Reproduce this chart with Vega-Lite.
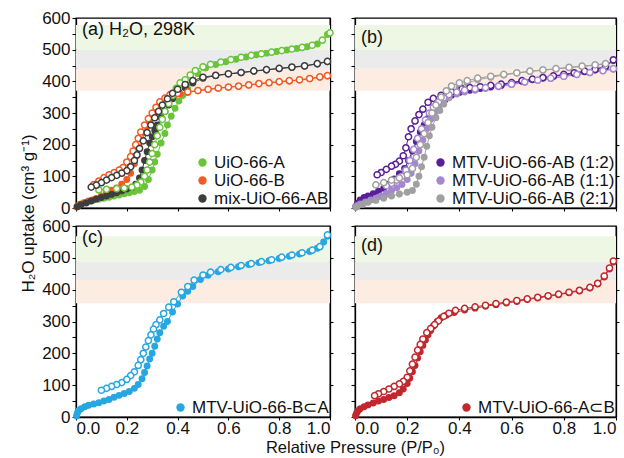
{
"$schema":"https://vega.github.io/schema/vega-lite/v6.json",
"padding":{"left":18,"top":8,"right":5,"bottom":0},
"bounds":"flush",
"columns":2,
"spacing":{"row":18,"column":25},
"config":{"font":"Liberation Sans","view":{"stroke":"#000","strokeWidth":1.3},
"axis":{"grid":false,"domainColor":"#000","domainWidth":1.3,"tickColor":"#000","tickWidth":1.1,"tickSize":4,"labelFontSize":17,"labelColor":"#111","titleFontSize":17,"titleFontWeight":"normal","titleColor":"#111","labelFont":"Liberation Sans","titleFont":"Liberation Sans","labelPadding":2},
"axisX":{"tickSize":3,"labelPadding":0,"titlePadding":3,"labelFontSize":17,"titleFontSize":16.5},
"legend":{"orient":"bottom-right","labelFontSize":17,"labelFont":"Liberation Sans","labelColor":"#111","labelLimit":0,"symbolType":"circle","symbolSize":70,"padding":0,"offset":1,"rowPadding":0,"labelOffset":3,"symbolStrokeWidth":0},
"title":{"font":"Liberation Sans","fontSize":18,"fontWeight":"normal","color":"#111","anchor":"start","frame":"group","offset":-30,"dx":6}},
"resolve":{"scale":{"color":"independent","stroke":"independent","fill":"independent","x":"independent","y":"independent"},"legend":{"color":"independent"}},
"datasets":{
"bandsTop":[{"band":"o","lo":370,"hi":440},{"band":"k","lo":440,"hi":500},{"band":"g","lo":500,"hi":578}],
"bandsBot":[{"band":"o","lo":357,"hi":430},{"band":"k","lo":430,"hi":488},{"band":"g","lo":488,"hi":568}],
"a":[
{"s":"UiO-66-A","b":"ads","p":0.005,"v":5},{"s":"UiO-66-A","b":"ads","p":0.015,"v":12},{"s":"UiO-66-A","b":"ads","p":0.03,"v":17},{"s":"UiO-66-A","b":"ads","p":0.05,"v":21},{"s":"UiO-66-A","b":"ads","p":0.07,"v":25},{"s":"UiO-66-A","b":"ads","p":0.09,"v":28},{"s":"UiO-66-A","b":"ads","p":0.11,"v":31},{"s":"UiO-66-A","b":"ads","p":0.13,"v":34},{"s":"UiO-66-A","b":"ads","p":0.15,"v":38},{"s":"UiO-66-A","b":"ads","p":0.17,"v":41},{"s":"UiO-66-A","b":"ads","p":0.19,"v":45},{"s":"UiO-66-A","b":"ads","p":0.21,"v":48},{"s":"UiO-66-A","b":"ads","p":0.23,"v":52},{"s":"UiO-66-A","b":"ads","p":0.25,"v":56},{"s":"UiO-66-A","b":"ads","p":0.27,"v":68},{"s":"UiO-66-A","b":"ads","p":0.285,"v":90},{"s":"UiO-66-A","b":"ads","p":0.3,"v":120},{"s":"UiO-66-A","b":"ads","p":0.31,"v":145},{"s":"UiO-66-A","b":"ads","p":0.32,"v":170},{"s":"UiO-66-A","b":"ads","p":0.335,"v":205},{"s":"UiO-66-A","b":"ads","p":0.35,"v":235},{"s":"UiO-66-A","b":"ads","p":0.36,"v":262},{"s":"UiO-66-A","b":"ads","p":0.375,"v":290},{"s":"UiO-66-A","b":"ads","p":0.39,"v":315},{"s":"UiO-66-A","b":"ads","p":0.405,"v":338},{"s":"UiO-66-A","b":"ads","p":0.42,"v":355},{"s":"UiO-66-A","b":"ads","p":0.44,"v":375},{"s":"UiO-66-A","b":"ads","p":0.46,"v":398},{"s":"UiO-66-A","b":"ads","p":0.48,"v":425},{"s":"UiO-66-A","b":"ads","p":0.51,"v":442},{"s":"UiO-66-A","b":"ads","p":0.55,"v":453},{"s":"UiO-66-A","b":"ads","p":0.59,"v":462},{"s":"UiO-66-A","b":"ads","p":0.63,"v":470},{"s":"UiO-66-A","b":"ads","p":0.67,"v":477},{"s":"UiO-66-A","b":"ads","p":0.71,"v":484},{"s":"UiO-66-A","b":"ads","p":0.75,"v":489},{"s":"UiO-66-A","b":"ads","p":0.79,"v":494},{"s":"UiO-66-A","b":"ads","p":0.83,"v":499},{"s":"UiO-66-A","b":"ads","p":0.87,"v":504},{"s":"UiO-66-A","b":"ads","p":0.91,"v":509},{"s":"UiO-66-A","b":"ads","p":0.95,"v":518},{"s":"UiO-66-A","b":"ads","p":0.99,"v":548},
{"s":"UiO-66-A","b":"des","p":1.0,"v":553},{"s":"UiO-66-A","b":"des","p":0.97,"v":530},{"s":"UiO-66-A","b":"des","p":0.93,"v":514},{"s":"UiO-66-A","b":"des","p":0.89,"v":507},{"s":"UiO-66-A","b":"des","p":0.85,"v":502},{"s":"UiO-66-A","b":"des","p":0.81,"v":497},{"s":"UiO-66-A","b":"des","p":0.77,"v":492},{"s":"UiO-66-A","b":"des","p":0.73,"v":487},{"s":"UiO-66-A","b":"des","p":0.69,"v":482},{"s":"UiO-66-A","b":"des","p":0.65,"v":476},{"s":"UiO-66-A","b":"des","p":0.61,"v":469},{"s":"UiO-66-A","b":"des","p":0.57,"v":461},{"s":"UiO-66-A","b":"des","p":0.53,"v":454},{"s":"UiO-66-A","b":"des","p":0.5,"v":446},{"s":"UiO-66-A","b":"des","p":0.47,"v":434},{"s":"UiO-66-A","b":"des","p":0.45,"v":420},{"s":"UiO-66-A","b":"des","p":0.43,"v":405},{"s":"UiO-66-A","b":"des","p":0.41,"v":395},{"s":"UiO-66-A","b":"des","p":0.395,"v":378},{"s":"UiO-66-A","b":"des","p":0.38,"v":355},{"s":"UiO-66-A","b":"des","p":0.365,"v":330},{"s":"UiO-66-A","b":"des","p":0.35,"v":305},{"s":"UiO-66-A","b":"des","p":0.34,"v":280},{"s":"UiO-66-A","b":"des","p":0.33,"v":255},{"s":"UiO-66-A","b":"des","p":0.32,"v":228},{"s":"UiO-66-A","b":"des","p":0.31,"v":200},{"s":"UiO-66-A","b":"des","p":0.3,"v":172},{"s":"UiO-66-A","b":"des","p":0.29,"v":145},{"s":"UiO-66-A","b":"des","p":0.28,"v":120},{"s":"UiO-66-A","b":"des","p":0.27,"v":100},{"s":"UiO-66-A","b":"des","p":0.255,"v":82},{"s":"UiO-66-A","b":"des","p":0.24,"v":72},{"s":"UiO-66-A","b":"des","p":0.22,"v":66},{"s":"UiO-66-A","b":"des","p":0.19,"v":63},{"s":"UiO-66-A","b":"des","p":0.16,"v":61},{"s":"UiO-66-A","b":"des","p":0.12,"v":59},{"s":"UiO-66-A","b":"des","p":0.09,"v":57},
{"s":"UiO-66-B","b":"ads","p":0.003,"v":3},{"s":"UiO-66-B","b":"ads","p":0.01,"v":8},{"s":"UiO-66-B","b":"ads","p":0.02,"v":12},{"s":"UiO-66-B","b":"ads","p":0.035,"v":17},{"s":"UiO-66-B","b":"ads","p":0.05,"v":22},{"s":"UiO-66-B","b":"ads","p":0.065,"v":25},{"s":"UiO-66-B","b":"ads","p":0.08,"v":30},{"s":"UiO-66-B","b":"ads","p":0.1,"v":38},{"s":"UiO-66-B","b":"ads","p":0.12,"v":48},{"s":"UiO-66-B","b":"ads","p":0.14,"v":56},{"s":"UiO-66-B","b":"ads","p":0.16,"v":63},{"s":"UiO-66-B","b":"ads","p":0.18,"v":75},{"s":"UiO-66-B","b":"ads","p":0.2,"v":90},{"s":"UiO-66-B","b":"ads","p":0.215,"v":110},{"s":"UiO-66-B","b":"ads","p":0.23,"v":140},{"s":"UiO-66-B","b":"ads","p":0.24,"v":165},{"s":"UiO-66-B","b":"ads","p":0.25,"v":190},{"s":"UiO-66-B","b":"ads","p":0.26,"v":215},{"s":"UiO-66-B","b":"ads","p":0.27,"v":238},{"s":"UiO-66-B","b":"ads","p":0.28,"v":257},{"s":"UiO-66-B","b":"ads","p":0.29,"v":275},{"s":"UiO-66-B","b":"ads","p":0.3,"v":290},{"s":"UiO-66-B","b":"ads","p":0.31,"v":302},{"s":"UiO-66-B","b":"ads","p":0.325,"v":320},{"s":"UiO-66-B","b":"ads","p":0.34,"v":333},{"s":"UiO-66-B","b":"ads","p":0.36,"v":343},{"s":"UiO-66-B","b":"ads","p":0.385,"v":352},{"s":"UiO-66-B","b":"ads","p":0.41,"v":360},{"s":"UiO-66-B","b":"ads","p":0.44,"v":365},{"s":"UiO-66-B","b":"ads","p":0.48,"v":370},{"s":"UiO-66-B","b":"ads","p":0.52,"v":374},{"s":"UiO-66-B","b":"ads","p":0.56,"v":378},{"s":"UiO-66-B","b":"ads","p":0.6,"v":381},{"s":"UiO-66-B","b":"ads","p":0.64,"v":384},{"s":"UiO-66-B","b":"ads","p":0.68,"v":388},{"s":"UiO-66-B","b":"ads","p":0.72,"v":392},{"s":"UiO-66-B","b":"ads","p":0.76,"v":395},{"s":"UiO-66-B","b":"ads","p":0.8,"v":398},{"s":"UiO-66-B","b":"ads","p":0.84,"v":401},{"s":"UiO-66-B","b":"ads","p":0.88,"v":404},{"s":"UiO-66-B","b":"ads","p":0.92,"v":408},{"s":"UiO-66-B","b":"ads","p":0.96,"v":413},{"s":"UiO-66-B","b":"ads","p":0.99,"v":417},
{"s":"UiO-66-B","b":"des","p":0.99,"v":418},{"s":"UiO-66-B","b":"des","p":0.96,"v":414},{"s":"UiO-66-B","b":"des","p":0.92,"v":409},{"s":"UiO-66-B","b":"des","p":0.88,"v":405},{"s":"UiO-66-B","b":"des","p":0.84,"v":402},{"s":"UiO-66-B","b":"des","p":0.8,"v":399},{"s":"UiO-66-B","b":"des","p":0.76,"v":396},{"s":"UiO-66-B","b":"des","p":0.72,"v":393},{"s":"UiO-66-B","b":"des","p":0.68,"v":389},{"s":"UiO-66-B","b":"des","p":0.64,"v":385},{"s":"UiO-66-B","b":"des","p":0.6,"v":382},{"s":"UiO-66-B","b":"des","p":0.56,"v":379},{"s":"UiO-66-B","b":"des","p":0.52,"v":375},{"s":"UiO-66-B","b":"des","p":0.48,"v":371},{"s":"UiO-66-B","b":"des","p":0.44,"v":367},{"s":"UiO-66-B","b":"des","p":0.4,"v":362},{"s":"UiO-66-B","b":"des","p":0.37,"v":358},{"s":"UiO-66-B","b":"des","p":0.35,"v":347},{"s":"UiO-66-B","b":"des","p":0.33,"v":335},{"s":"UiO-66-B","b":"des","p":0.315,"v":318},{"s":"UiO-66-B","b":"des","p":0.3,"v":300},{"s":"UiO-66-B","b":"des","p":0.285,"v":282},{"s":"UiO-66-B","b":"des","p":0.27,"v":262},{"s":"UiO-66-B","b":"des","p":0.255,"v":240},{"s":"UiO-66-B","b":"des","p":0.245,"v":220},{"s":"UiO-66-B","b":"des","p":0.235,"v":200},{"s":"UiO-66-B","b":"des","p":0.225,"v":180},{"s":"UiO-66-B","b":"des","p":0.215,"v":162},{"s":"UiO-66-B","b":"des","p":0.2,"v":145},{"s":"UiO-66-B","b":"des","p":0.185,"v":128},{"s":"UiO-66-B","b":"des","p":0.17,"v":120},{"s":"UiO-66-B","b":"des","p":0.15,"v":112},{"s":"UiO-66-B","b":"des","p":0.13,"v":105},{"s":"UiO-66-B","b":"des","p":0.11,"v":96},{"s":"UiO-66-B","b":"des","p":0.09,"v":85},{"s":"UiO-66-B","b":"des","p":0.07,"v":74},
{"s":"mix-UiO-66-AB","b":"ads","p":0.005,"v":4},{"s":"mix-UiO-66-AB","b":"ads","p":0.02,"v":10},{"s":"mix-UiO-66-AB","b":"ads","p":0.04,"v":16},{"s":"mix-UiO-66-AB","b":"ads","p":0.06,"v":22},{"s":"mix-UiO-66-AB","b":"ads","p":0.08,"v":28},{"s":"mix-UiO-66-AB","b":"ads","p":0.1,"v":33},{"s":"mix-UiO-66-AB","b":"ads","p":0.12,"v":38},{"s":"mix-UiO-66-AB","b":"ads","p":0.14,"v":43},{"s":"mix-UiO-66-AB","b":"ads","p":0.16,"v":48},{"s":"mix-UiO-66-AB","b":"ads","p":0.18,"v":54},{"s":"mix-UiO-66-AB","b":"ads","p":0.2,"v":60},{"s":"mix-UiO-66-AB","b":"ads","p":0.22,"v":65},{"s":"mix-UiO-66-AB","b":"ads","p":0.235,"v":75},{"s":"mix-UiO-66-AB","b":"ads","p":0.25,"v":95},{"s":"mix-UiO-66-AB","b":"ads","p":0.26,"v":120},{"s":"mix-UiO-66-AB","b":"ads","p":0.27,"v":150},{"s":"mix-UiO-66-AB","b":"ads","p":0.28,"v":178},{"s":"mix-UiO-66-AB","b":"ads","p":0.29,"v":205},{"s":"mix-UiO-66-AB","b":"ads","p":0.3,"v":225},{"s":"mix-UiO-66-AB","b":"ads","p":0.31,"v":245},{"s":"mix-UiO-66-AB","b":"ads","p":0.32,"v":262},{"s":"mix-UiO-66-AB","b":"ads","p":0.335,"v":285},{"s":"mix-UiO-66-AB","b":"ads","p":0.35,"v":305},{"s":"mix-UiO-66-AB","b":"ads","p":0.365,"v":325},{"s":"mix-UiO-66-AB","b":"ads","p":0.38,"v":345},{"s":"mix-UiO-66-AB","b":"ads","p":0.4,"v":362},{"s":"mix-UiO-66-AB","b":"ads","p":0.43,"v":380},{"s":"mix-UiO-66-AB","b":"ads","p":0.46,"v":395},{"s":"mix-UiO-66-AB","b":"ads","p":0.5,"v":410},{"s":"mix-UiO-66-AB","b":"ads","p":0.55,"v":418},{"s":"mix-UiO-66-AB","b":"ads","p":0.6,"v":423},{"s":"mix-UiO-66-AB","b":"ads","p":0.65,"v":427},{"s":"mix-UiO-66-AB","b":"ads","p":0.7,"v":432},{"s":"mix-UiO-66-AB","b":"ads","p":0.75,"v":436},{"s":"mix-UiO-66-AB","b":"ads","p":0.8,"v":440},{"s":"mix-UiO-66-AB","b":"ads","p":0.85,"v":444},{"s":"mix-UiO-66-AB","b":"ads","p":0.9,"v":448},{"s":"mix-UiO-66-AB","b":"ads","p":0.95,"v":455},{"s":"mix-UiO-66-AB","b":"ads","p":0.99,"v":462},
{"s":"mix-UiO-66-AB","b":"des","p":0.99,"v":463},{"s":"mix-UiO-66-AB","b":"des","p":0.95,"v":456},{"s":"mix-UiO-66-AB","b":"des","p":0.9,"v":449},{"s":"mix-UiO-66-AB","b":"des","p":0.85,"v":445},{"s":"mix-UiO-66-AB","b":"des","p":0.8,"v":441},{"s":"mix-UiO-66-AB","b":"des","p":0.75,"v":437},{"s":"mix-UiO-66-AB","b":"des","p":0.7,"v":433},{"s":"mix-UiO-66-AB","b":"des","p":0.65,"v":428},{"s":"mix-UiO-66-AB","b":"des","p":0.6,"v":424},{"s":"mix-UiO-66-AB","b":"des","p":0.55,"v":419},{"s":"mix-UiO-66-AB","b":"des","p":0.5,"v":413},{"s":"mix-UiO-66-AB","b":"des","p":0.46,"v":402},{"s":"mix-UiO-66-AB","b":"des","p":0.43,"v":390},{"s":"mix-UiO-66-AB","b":"des","p":0.4,"v":375},{"s":"mix-UiO-66-AB","b":"des","p":0.38,"v":362},{"s":"mix-UiO-66-AB","b":"des","p":0.36,"v":345},{"s":"mix-UiO-66-AB","b":"des","p":0.34,"v":325},{"s":"mix-UiO-66-AB","b":"des","p":0.325,"v":305},{"s":"mix-UiO-66-AB","b":"des","p":0.31,"v":285},{"s":"mix-UiO-66-AB","b":"des","p":0.295,"v":262},{"s":"mix-UiO-66-AB","b":"des","p":0.28,"v":238},{"s":"mix-UiO-66-AB","b":"des","p":0.265,"v":212},{"s":"mix-UiO-66-AB","b":"des","p":0.25,"v":188},{"s":"mix-UiO-66-AB","b":"des","p":0.24,"v":168},{"s":"mix-UiO-66-AB","b":"des","p":0.23,"v":150},{"s":"mix-UiO-66-AB","b":"des","p":0.215,"v":130},{"s":"mix-UiO-66-AB","b":"des","p":0.2,"v":118},{"s":"mix-UiO-66-AB","b":"des","p":0.18,"v":110},{"s":"mix-UiO-66-AB","b":"des","p":0.16,"v":103},{"s":"mix-UiO-66-AB","b":"des","p":0.14,"v":96},{"s":"mix-UiO-66-AB","b":"des","p":0.12,"v":88},{"s":"mix-UiO-66-AB","b":"des","p":0.1,"v":80},{"s":"mix-UiO-66-AB","b":"des","p":0.08,"v":72},{"s":"mix-UiO-66-AB","b":"des","p":0.06,"v":66}
],
"b":[
{"s":"MTV-UiO-66-AB (1:2)","b":"ads","p":0.003,"v":5},{"s":"MTV-UiO-66-AB (1:2)","b":"ads","p":0.01,"v":15},{"s":"MTV-UiO-66-AB (1:2)","b":"ads","p":0.02,"v":25},{"s":"MTV-UiO-66-AB (1:2)","b":"ads","p":0.035,"v":33},{"s":"MTV-UiO-66-AB (1:2)","b":"ads","p":0.05,"v":38},{"s":"MTV-UiO-66-AB (1:2)","b":"ads","p":0.07,"v":45},{"s":"MTV-UiO-66-AB (1:2)","b":"ads","p":0.09,"v":53},{"s":"MTV-UiO-66-AB (1:2)","b":"ads","p":0.11,"v":62},{"s":"MTV-UiO-66-AB (1:2)","b":"ads","p":0.13,"v":75},{"s":"MTV-UiO-66-AB (1:2)","b":"ads","p":0.15,"v":92},{"s":"MTV-UiO-66-AB (1:2)","b":"ads","p":0.17,"v":108},{"s":"MTV-UiO-66-AB (1:2)","b":"ads","p":0.19,"v":125},{"s":"MTV-UiO-66-AB (1:2)","b":"ads","p":0.205,"v":150},{"s":"MTV-UiO-66-AB (1:2)","b":"ads","p":0.22,"v":180},{"s":"MTV-UiO-66-AB (1:2)","b":"ads","p":0.235,"v":210},{"s":"MTV-UiO-66-AB (1:2)","b":"ads","p":0.25,"v":240},{"s":"MTV-UiO-66-AB (1:2)","b":"ads","p":0.265,"v":262},{"s":"MTV-UiO-66-AB (1:2)","b":"ads","p":0.28,"v":283},{"s":"MTV-UiO-66-AB (1:2)","b":"ads","p":0.3,"v":305},{"s":"MTV-UiO-66-AB (1:2)","b":"ads","p":0.32,"v":324},{"s":"MTV-UiO-66-AB (1:2)","b":"ads","p":0.345,"v":342},{"s":"MTV-UiO-66-AB (1:2)","b":"ads","p":0.37,"v":356},{"s":"MTV-UiO-66-AB (1:2)","b":"ads","p":0.4,"v":365},{"s":"MTV-UiO-66-AB (1:2)","b":"ads","p":0.44,"v":372},{"s":"MTV-UiO-66-AB (1:2)","b":"ads","p":0.48,"v":377},{"s":"MTV-UiO-66-AB (1:2)","b":"ads","p":0.52,"v":382},{"s":"MTV-UiO-66-AB (1:2)","b":"ads","p":0.56,"v":387},{"s":"MTV-UiO-66-AB (1:2)","b":"ads","p":0.6,"v":394},{"s":"MTV-UiO-66-AB (1:2)","b":"ads","p":0.64,"v":400},{"s":"MTV-UiO-66-AB (1:2)","b":"ads","p":0.68,"v":405},{"s":"MTV-UiO-66-AB (1:2)","b":"ads","p":0.72,"v":410},{"s":"MTV-UiO-66-AB (1:2)","b":"ads","p":0.76,"v":415},{"s":"MTV-UiO-66-AB (1:2)","b":"ads","p":0.8,"v":420},{"s":"MTV-UiO-66-AB (1:2)","b":"ads","p":0.84,"v":425},{"s":"MTV-UiO-66-AB (1:2)","b":"ads","p":0.88,"v":430},{"s":"MTV-UiO-66-AB (1:2)","b":"ads","p":0.92,"v":436},{"s":"MTV-UiO-66-AB (1:2)","b":"ads","p":0.96,"v":446},{"s":"MTV-UiO-66-AB (1:2)","b":"ads","p":0.99,"v":466},
{"s":"MTV-UiO-66-AB (1:2)","b":"des","p":0.99,"v":468},{"s":"MTV-UiO-66-AB (1:2)","b":"des","p":0.96,"v":448},{"s":"MTV-UiO-66-AB (1:2)","b":"des","p":0.92,"v":438},{"s":"MTV-UiO-66-AB (1:2)","b":"des","p":0.88,"v":432},{"s":"MTV-UiO-66-AB (1:2)","b":"des","p":0.84,"v":427},{"s":"MTV-UiO-66-AB (1:2)","b":"des","p":0.8,"v":422},{"s":"MTV-UiO-66-AB (1:2)","b":"des","p":0.76,"v":417},{"s":"MTV-UiO-66-AB (1:2)","b":"des","p":0.72,"v":412},{"s":"MTV-UiO-66-AB (1:2)","b":"des","p":0.68,"v":407},{"s":"MTV-UiO-66-AB (1:2)","b":"des","p":0.64,"v":402},{"s":"MTV-UiO-66-AB (1:2)","b":"des","p":0.6,"v":396},{"s":"MTV-UiO-66-AB (1:2)","b":"des","p":0.56,"v":391},{"s":"MTV-UiO-66-AB (1:2)","b":"des","p":0.52,"v":387},{"s":"MTV-UiO-66-AB (1:2)","b":"des","p":0.48,"v":383},{"s":"MTV-UiO-66-AB (1:2)","b":"des","p":0.44,"v":380},{"s":"MTV-UiO-66-AB (1:2)","b":"des","p":0.41,"v":376},{"s":"MTV-UiO-66-AB (1:2)","b":"des","p":0.37,"v":366},{"s":"MTV-UiO-66-AB (1:2)","b":"des","p":0.33,"v":356},{"s":"MTV-UiO-66-AB (1:2)","b":"des","p":0.3,"v":346},{"s":"MTV-UiO-66-AB (1:2)","b":"des","p":0.28,"v":334},{"s":"MTV-UiO-66-AB (1:2)","b":"des","p":0.26,"v":312},{"s":"MTV-UiO-66-AB (1:2)","b":"des","p":0.245,"v":295},{"s":"MTV-UiO-66-AB (1:2)","b":"des","p":0.23,"v":275},{"s":"MTV-UiO-66-AB (1:2)","b":"des","p":0.215,"v":250},{"s":"MTV-UiO-66-AB (1:2)","b":"des","p":0.205,"v":225},{"s":"MTV-UiO-66-AB (1:2)","b":"des","p":0.195,"v":190},{"s":"MTV-UiO-66-AB (1:2)","b":"des","p":0.185,"v":165},{"s":"MTV-UiO-66-AB (1:2)","b":"des","p":0.17,"v":148},{"s":"MTV-UiO-66-AB (1:2)","b":"des","p":0.155,"v":138},{"s":"MTV-UiO-66-AB (1:2)","b":"des","p":0.14,"v":132},{"s":"MTV-UiO-66-AB (1:2)","b":"des","p":0.12,"v":122},{"s":"MTV-UiO-66-AB (1:2)","b":"des","p":0.1,"v":112},{"s":"MTV-UiO-66-AB (1:2)","b":"des","p":0.085,"v":105},
{"s":"MTV-UiO-66-AB (1:1)","b":"ads","p":0.003,"v":3},{"s":"MTV-UiO-66-AB (1:1)","b":"ads","p":0.01,"v":8},{"s":"MTV-UiO-66-AB (1:1)","b":"ads","p":0.02,"v":13},{"s":"MTV-UiO-66-AB (1:1)","b":"ads","p":0.04,"v":19},{"s":"MTV-UiO-66-AB (1:1)","b":"ads","p":0.06,"v":25},{"s":"MTV-UiO-66-AB (1:1)","b":"ads","p":0.08,"v":31},{"s":"MTV-UiO-66-AB (1:1)","b":"ads","p":0.1,"v":38},{"s":"MTV-UiO-66-AB (1:1)","b":"ads","p":0.12,"v":46},{"s":"MTV-UiO-66-AB (1:1)","b":"ads","p":0.14,"v":55},{"s":"MTV-UiO-66-AB (1:1)","b":"ads","p":0.16,"v":64},{"s":"MTV-UiO-66-AB (1:1)","b":"ads","p":0.18,"v":74},{"s":"MTV-UiO-66-AB (1:1)","b":"ads","p":0.2,"v":90},{"s":"MTV-UiO-66-AB (1:1)","b":"ads","p":0.215,"v":110},{"s":"MTV-UiO-66-AB (1:1)","b":"ads","p":0.23,"v":140},{"s":"MTV-UiO-66-AB (1:1)","b":"ads","p":0.245,"v":180},{"s":"MTV-UiO-66-AB (1:1)","b":"ads","p":0.26,"v":215},{"s":"MTV-UiO-66-AB (1:1)","b":"ads","p":0.275,"v":250},{"s":"MTV-UiO-66-AB (1:1)","b":"ads","p":0.29,"v":280},{"s":"MTV-UiO-66-AB (1:1)","b":"ads","p":0.305,"v":303},{"s":"MTV-UiO-66-AB (1:1)","b":"ads","p":0.32,"v":322},{"s":"MTV-UiO-66-AB (1:1)","b":"ads","p":0.34,"v":338},{"s":"MTV-UiO-66-AB (1:1)","b":"ads","p":0.36,"v":350},{"s":"MTV-UiO-66-AB (1:1)","b":"ads","p":0.39,"v":360},{"s":"MTV-UiO-66-AB (1:1)","b":"ads","p":0.42,"v":366},{"s":"MTV-UiO-66-AB (1:1)","b":"ads","p":0.46,"v":372},{"s":"MTV-UiO-66-AB (1:1)","b":"ads","p":0.5,"v":377},{"s":"MTV-UiO-66-AB (1:1)","b":"ads","p":0.55,"v":383},{"s":"MTV-UiO-66-AB (1:1)","b":"ads","p":0.6,"v":390},{"s":"MTV-UiO-66-AB (1:1)","b":"ads","p":0.65,"v":397},{"s":"MTV-UiO-66-AB (1:1)","b":"ads","p":0.7,"v":403},{"s":"MTV-UiO-66-AB (1:1)","b":"ads","p":0.75,"v":409},{"s":"MTV-UiO-66-AB (1:1)","b":"ads","p":0.8,"v":415},{"s":"MTV-UiO-66-AB (1:1)","b":"ads","p":0.85,"v":421},{"s":"MTV-UiO-66-AB (1:1)","b":"ads","p":0.9,"v":427},{"s":"MTV-UiO-66-AB (1:1)","b":"ads","p":0.95,"v":433},{"s":"MTV-UiO-66-AB (1:1)","b":"ads","p":0.99,"v":438},
{"s":"MTV-UiO-66-AB (1:1)","b":"des","p":0.99,"v":440},{"s":"MTV-UiO-66-AB (1:1)","b":"des","p":0.95,"v":434},{"s":"MTV-UiO-66-AB (1:1)","b":"des","p":0.9,"v":428},{"s":"MTV-UiO-66-AB (1:1)","b":"des","p":0.85,"v":422},{"s":"MTV-UiO-66-AB (1:1)","b":"des","p":0.8,"v":416},{"s":"MTV-UiO-66-AB (1:1)","b":"des","p":0.75,"v":410},{"s":"MTV-UiO-66-AB (1:1)","b":"des","p":0.7,"v":404},{"s":"MTV-UiO-66-AB (1:1)","b":"des","p":0.65,"v":398},{"s":"MTV-UiO-66-AB (1:1)","b":"des","p":0.6,"v":391},{"s":"MTV-UiO-66-AB (1:1)","b":"des","p":0.55,"v":385},{"s":"MTV-UiO-66-AB (1:1)","b":"des","p":0.5,"v":380},{"s":"MTV-UiO-66-AB (1:1)","b":"des","p":0.46,"v":376},{"s":"MTV-UiO-66-AB (1:1)","b":"des","p":0.42,"v":372},{"s":"MTV-UiO-66-AB (1:1)","b":"des","p":0.39,"v":366},{"s":"MTV-UiO-66-AB (1:1)","b":"des","p":0.36,"v":358},{"s":"MTV-UiO-66-AB (1:1)","b":"des","p":0.34,"v":348},{"s":"MTV-UiO-66-AB (1:1)","b":"des","p":0.32,"v":335},{"s":"MTV-UiO-66-AB (1:1)","b":"des","p":0.3,"v":318},{"s":"MTV-UiO-66-AB (1:1)","b":"des","p":0.285,"v":300},{"s":"MTV-UiO-66-AB (1:1)","b":"des","p":0.27,"v":278},{"s":"MTV-UiO-66-AB (1:1)","b":"des","p":0.255,"v":250},{"s":"MTV-UiO-66-AB (1:1)","b":"des","p":0.24,"v":220},{"s":"MTV-UiO-66-AB (1:1)","b":"des","p":0.225,"v":185},{"s":"MTV-UiO-66-AB (1:1)","b":"des","p":0.21,"v":150},{"s":"MTV-UiO-66-AB (1:1)","b":"des","p":0.195,"v":120},{"s":"MTV-UiO-66-AB (1:1)","b":"des","p":0.18,"v":100},{"s":"MTV-UiO-66-AB (1:1)","b":"des","p":0.16,"v":88},{"s":"MTV-UiO-66-AB (1:1)","b":"des","p":0.14,"v":78},{"s":"MTV-UiO-66-AB (1:1)","b":"des","p":0.12,"v":70},
{"s":"MTV-UiO-66-AB (2:1)","b":"ads","p":0.003,"v":2},{"s":"MTV-UiO-66-AB (2:1)","b":"ads","p":0.01,"v":6},{"s":"MTV-UiO-66-AB (2:1)","b":"ads","p":0.03,"v":12},{"s":"MTV-UiO-66-AB (2:1)","b":"ads","p":0.05,"v":18},{"s":"MTV-UiO-66-AB (2:1)","b":"ads","p":0.08,"v":24},{"s":"MTV-UiO-66-AB (2:1)","b":"ads","p":0.11,"v":31},{"s":"MTV-UiO-66-AB (2:1)","b":"ads","p":0.14,"v":38},{"s":"MTV-UiO-66-AB (2:1)","b":"ads","p":0.17,"v":44},{"s":"MTV-UiO-66-AB (2:1)","b":"ads","p":0.2,"v":50},{"s":"MTV-UiO-66-AB (2:1)","b":"ads","p":0.22,"v":55},{"s":"MTV-UiO-66-AB (2:1)","b":"ads","p":0.235,"v":75},{"s":"MTV-UiO-66-AB (2:1)","b":"ads","p":0.245,"v":100},{"s":"MTV-UiO-66-AB (2:1)","b":"ads","p":0.255,"v":130},{"s":"MTV-UiO-66-AB (2:1)","b":"ads","p":0.265,"v":160},{"s":"MTV-UiO-66-AB (2:1)","b":"ads","p":0.275,"v":195},{"s":"MTV-UiO-66-AB (2:1)","b":"ads","p":0.285,"v":228},{"s":"MTV-UiO-66-AB (2:1)","b":"ads","p":0.295,"v":255},{"s":"MTV-UiO-66-AB (2:1)","b":"ads","p":0.31,"v":285},{"s":"MTV-UiO-66-AB (2:1)","b":"ads","p":0.325,"v":308},{"s":"MTV-UiO-66-AB (2:1)","b":"ads","p":0.34,"v":328},{"s":"MTV-UiO-66-AB (2:1)","b":"ads","p":0.36,"v":348},{"s":"MTV-UiO-66-AB (2:1)","b":"ads","p":0.38,"v":365},{"s":"MTV-UiO-66-AB (2:1)","b":"ads","p":0.4,"v":380},{"s":"MTV-UiO-66-AB (2:1)","b":"ads","p":0.43,"v":395},{"s":"MTV-UiO-66-AB (2:1)","b":"ads","p":0.47,"v":405},{"s":"MTV-UiO-66-AB (2:1)","b":"ads","p":0.52,"v":413},{"s":"MTV-UiO-66-AB (2:1)","b":"ads","p":0.57,"v":420},{"s":"MTV-UiO-66-AB (2:1)","b":"ads","p":0.62,"v":426},{"s":"MTV-UiO-66-AB (2:1)","b":"ads","p":0.67,"v":431},{"s":"MTV-UiO-66-AB (2:1)","b":"ads","p":0.72,"v":435},{"s":"MTV-UiO-66-AB (2:1)","b":"ads","p":0.77,"v":439},{"s":"MTV-UiO-66-AB (2:1)","b":"ads","p":0.82,"v":443},{"s":"MTV-UiO-66-AB (2:1)","b":"ads","p":0.87,"v":447},{"s":"MTV-UiO-66-AB (2:1)","b":"ads","p":0.92,"v":451},{"s":"MTV-UiO-66-AB (2:1)","b":"ads","p":0.96,"v":455},
{"s":"MTV-UiO-66-AB (2:1)","b":"des","p":0.96,"v":456},{"s":"MTV-UiO-66-AB (2:1)","b":"des","p":0.92,"v":452},{"s":"MTV-UiO-66-AB (2:1)","b":"des","p":0.87,"v":448},{"s":"MTV-UiO-66-AB (2:1)","b":"des","p":0.82,"v":444},{"s":"MTV-UiO-66-AB (2:1)","b":"des","p":0.77,"v":440},{"s":"MTV-UiO-66-AB (2:1)","b":"des","p":0.72,"v":436},{"s":"MTV-UiO-66-AB (2:1)","b":"des","p":0.67,"v":432},{"s":"MTV-UiO-66-AB (2:1)","b":"des","p":0.62,"v":427},{"s":"MTV-UiO-66-AB (2:1)","b":"des","p":0.57,"v":422},{"s":"MTV-UiO-66-AB (2:1)","b":"des","p":0.52,"v":416},{"s":"MTV-UiO-66-AB (2:1)","b":"des","p":0.47,"v":410},{"s":"MTV-UiO-66-AB (2:1)","b":"des","p":0.43,"v":402},{"s":"MTV-UiO-66-AB (2:1)","b":"des","p":0.4,"v":395},{"s":"MTV-UiO-66-AB (2:1)","b":"des","p":0.37,"v":385},{"s":"MTV-UiO-66-AB (2:1)","b":"des","p":0.35,"v":370},{"s":"MTV-UiO-66-AB (2:1)","b":"des","p":0.33,"v":350},{"s":"MTV-UiO-66-AB (2:1)","b":"des","p":0.31,"v":325},{"s":"MTV-UiO-66-AB (2:1)","b":"des","p":0.295,"v":300},{"s":"MTV-UiO-66-AB (2:1)","b":"des","p":0.28,"v":270},{"s":"MTV-UiO-66-AB (2:1)","b":"des","p":0.265,"v":235},{"s":"MTV-UiO-66-AB (2:1)","b":"des","p":0.25,"v":200},{"s":"MTV-UiO-66-AB (2:1)","b":"des","p":0.235,"v":160},{"s":"MTV-UiO-66-AB (2:1)","b":"des","p":0.22,"v":125},{"s":"MTV-UiO-66-AB (2:1)","b":"des","p":0.2,"v":105},{"s":"MTV-UiO-66-AB (2:1)","b":"des","p":0.17,"v":95},{"s":"MTV-UiO-66-AB (2:1)","b":"des","p":0.14,"v":88},{"s":"MTV-UiO-66-AB (2:1)","b":"des","p":0.11,"v":80},{"s":"MTV-UiO-66-AB (2:1)","b":"des","p":0.08,"v":73}
],
"c":[
{"s":"MTV-UiO-66-B⊂A","b":"ads","p":0.002,"v":3},{"s":"MTV-UiO-66-B⊂A","b":"ads","p":0.005,"v":12},{"s":"MTV-UiO-66-B⊂A","b":"ads","p":0.01,"v":20},{"s":"MTV-UiO-66-B⊂A","b":"ads","p":0.02,"v":26},{"s":"MTV-UiO-66-B⊂A","b":"ads","p":0.035,"v":32},{"s":"MTV-UiO-66-B⊂A","b":"ads","p":0.05,"v":37},{"s":"MTV-UiO-66-B⊂A","b":"ads","p":0.07,"v":41},{"s":"MTV-UiO-66-B⊂A","b":"ads","p":0.09,"v":45},{"s":"MTV-UiO-66-B⊂A","b":"ads","p":0.11,"v":50},{"s":"MTV-UiO-66-B⊂A","b":"ads","p":0.13,"v":55},{"s":"MTV-UiO-66-B⊂A","b":"ads","p":0.15,"v":62},{"s":"MTV-UiO-66-B⊂A","b":"ads","p":0.17,"v":68},{"s":"MTV-UiO-66-B⊂A","b":"ads","p":0.19,"v":74},{"s":"MTV-UiO-66-B⊂A","b":"ads","p":0.21,"v":80},{"s":"MTV-UiO-66-B⊂A","b":"ads","p":0.23,"v":90},{"s":"MTV-UiO-66-B⊂A","b":"ads","p":0.245,"v":102},{"s":"MTV-UiO-66-B⊂A","b":"ads","p":0.26,"v":120},{"s":"MTV-UiO-66-B⊂A","b":"ads","p":0.27,"v":140},{"s":"MTV-UiO-66-B⊂A","b":"ads","p":0.28,"v":160},{"s":"MTV-UiO-66-B⊂A","b":"ads","p":0.29,"v":182},{"s":"MTV-UiO-66-B⊂A","b":"ads","p":0.3,"v":200},{"s":"MTV-UiO-66-B⊂A","b":"ads","p":0.31,"v":222},{"s":"MTV-UiO-66-B⊂A","b":"ads","p":0.32,"v":245},{"s":"MTV-UiO-66-B⊂A","b":"ads","p":0.33,"v":265},{"s":"MTV-UiO-66-B⊂A","b":"ads","p":0.345,"v":285},{"s":"MTV-UiO-66-B⊂A","b":"ads","p":0.36,"v":300},{"s":"MTV-UiO-66-B⊂A","b":"ads","p":0.38,"v":330},{"s":"MTV-UiO-66-B⊂A","b":"ads","p":0.4,"v":355},{"s":"MTV-UiO-66-B⊂A","b":"ads","p":0.42,"v":380},{"s":"MTV-UiO-66-B⊂A","b":"ads","p":0.44,"v":395},{"s":"MTV-UiO-66-B⊂A","b":"ads","p":0.46,"v":410},{"s":"MTV-UiO-66-B⊂A","b":"ads","p":0.49,"v":432},{"s":"MTV-UiO-66-B⊂A","b":"ads","p":0.52,"v":445},{"s":"MTV-UiO-66-B⊂A","b":"ads","p":0.56,"v":456},{"s":"MTV-UiO-66-B⊂A","b":"ads","p":0.6,"v":465},{"s":"MTV-UiO-66-B⊂A","b":"ads","p":0.64,"v":472},{"s":"MTV-UiO-66-B⊂A","b":"ads","p":0.68,"v":479},{"s":"MTV-UiO-66-B⊂A","b":"ads","p":0.72,"v":485},{"s":"MTV-UiO-66-B⊂A","b":"ads","p":0.76,"v":491},{"s":"MTV-UiO-66-B⊂A","b":"ads","p":0.8,"v":498},{"s":"MTV-UiO-66-B⊂A","b":"ads","p":0.84,"v":505},{"s":"MTV-UiO-66-B⊂A","b":"ads","p":0.88,"v":512},{"s":"MTV-UiO-66-B⊂A","b":"ads","p":0.92,"v":520},{"s":"MTV-UiO-66-B⊂A","b":"ads","p":0.95,"v":530},{"s":"MTV-UiO-66-B⊂A","b":"ads","p":0.975,"v":550},{"s":"MTV-UiO-66-B⊂A","b":"ads","p":0.99,"v":568},
{"s":"MTV-UiO-66-B⊂A","b":"des","p":0.99,"v":572},{"s":"MTV-UiO-66-B⊂A","b":"des","p":0.96,"v":535},{"s":"MTV-UiO-66-B⊂A","b":"des","p":0.93,"v":524},{"s":"MTV-UiO-66-B⊂A","b":"des","p":0.89,"v":516},{"s":"MTV-UiO-66-B⊂A","b":"des","p":0.85,"v":509},{"s":"MTV-UiO-66-B⊂A","b":"des","p":0.81,"v":502},{"s":"MTV-UiO-66-B⊂A","b":"des","p":0.77,"v":494},{"s":"MTV-UiO-66-B⊂A","b":"des","p":0.73,"v":488},{"s":"MTV-UiO-66-B⊂A","b":"des","p":0.69,"v":482},{"s":"MTV-UiO-66-B⊂A","b":"des","p":0.65,"v":476},{"s":"MTV-UiO-66-B⊂A","b":"des","p":0.61,"v":470},{"s":"MTV-UiO-66-B⊂A","b":"des","p":0.57,"v":463},{"s":"MTV-UiO-66-B⊂A","b":"des","p":0.53,"v":455},{"s":"MTV-UiO-66-B⊂A","b":"des","p":0.5,"v":446},{"s":"MTV-UiO-66-B⊂A","b":"des","p":0.465,"v":430},{"s":"MTV-UiO-66-B⊂A","b":"des","p":0.44,"v":410},{"s":"MTV-UiO-66-B⊂A","b":"des","p":0.415,"v":392},{"s":"MTV-UiO-66-B⊂A","b":"des","p":0.385,"v":362},{"s":"MTV-UiO-66-B⊂A","b":"des","p":0.365,"v":345},{"s":"MTV-UiO-66-B⊂A","b":"des","p":0.345,"v":325},{"s":"MTV-UiO-66-B⊂A","b":"des","p":0.33,"v":305},{"s":"MTV-UiO-66-B⊂A","b":"des","p":0.315,"v":290},{"s":"MTV-UiO-66-B⊂A","b":"des","p":0.305,"v":276},{"s":"MTV-UiO-66-B⊂A","b":"des","p":0.295,"v":258},{"s":"MTV-UiO-66-B⊂A","b":"des","p":0.285,"v":240},{"s":"MTV-UiO-66-B⊂A","b":"des","p":0.275,"v":220},{"s":"MTV-UiO-66-B⊂A","b":"des","p":0.265,"v":200},{"s":"MTV-UiO-66-B⊂A","b":"des","p":0.255,"v":180},{"s":"MTV-UiO-66-B⊂A","b":"des","p":0.245,"v":162},{"s":"MTV-UiO-66-B⊂A","b":"des","p":0.23,"v":142},{"s":"MTV-UiO-66-B⊂A","b":"des","p":0.215,"v":130},{"s":"MTV-UiO-66-B⊂A","b":"des","p":0.2,"v":118},{"s":"MTV-UiO-66-B⊂A","b":"des","p":0.18,"v":108},{"s":"MTV-UiO-66-B⊂A","b":"des","p":0.16,"v":102},{"s":"MTV-UiO-66-B⊂A","b":"des","p":0.14,"v":96},{"s":"MTV-UiO-66-B⊂A","b":"des","p":0.12,"v":90},{"s":"MTV-UiO-66-B⊂A","b":"des","p":0.1,"v":84}
],
"d":[
{"s":"MTV-UiO-66-A⊂B","b":"ads","p":0.002,"v":4},{"s":"MTV-UiO-66-A⊂B","b":"ads","p":0.006,"v":12},{"s":"MTV-UiO-66-A⊂B","b":"ads","p":0.012,"v":20},{"s":"MTV-UiO-66-A⊂B","b":"ads","p":0.02,"v":26},{"s":"MTV-UiO-66-A⊂B","b":"ads","p":0.035,"v":32},{"s":"MTV-UiO-66-A⊂B","b":"ads","p":0.05,"v":38},{"s":"MTV-UiO-66-A⊂B","b":"ads","p":0.07,"v":44},{"s":"MTV-UiO-66-A⊂B","b":"ads","p":0.09,"v":50},{"s":"MTV-UiO-66-A⊂B","b":"ads","p":0.11,"v":55},{"s":"MTV-UiO-66-A⊂B","b":"ads","p":0.13,"v":61},{"s":"MTV-UiO-66-A⊂B","b":"ads","p":0.15,"v":67},{"s":"MTV-UiO-66-A⊂B","b":"ads","p":0.17,"v":76},{"s":"MTV-UiO-66-A⊂B","b":"ads","p":0.185,"v":88},{"s":"MTV-UiO-66-A⊂B","b":"ads","p":0.2,"v":105},{"s":"MTV-UiO-66-A⊂B","b":"ads","p":0.21,"v":122},{"s":"MTV-UiO-66-A⊂B","b":"ads","p":0.22,"v":142},{"s":"MTV-UiO-66-A⊂B","b":"ads","p":0.23,"v":162},{"s":"MTV-UiO-66-A⊂B","b":"ads","p":0.24,"v":185},{"s":"MTV-UiO-66-A⊂B","b":"ads","p":0.25,"v":205},{"s":"MTV-UiO-66-A⊂B","b":"ads","p":0.26,"v":225},{"s":"MTV-UiO-66-A⊂B","b":"ads","p":0.27,"v":242},{"s":"MTV-UiO-66-A⊂B","b":"ads","p":0.28,"v":258},{"s":"MTV-UiO-66-A⊂B","b":"ads","p":0.29,"v":272},{"s":"MTV-UiO-66-A⊂B","b":"ads","p":0.3,"v":285},{"s":"MTV-UiO-66-A⊂B","b":"ads","p":0.315,"v":300},{"s":"MTV-UiO-66-A⊂B","b":"ads","p":0.33,"v":312},{"s":"MTV-UiO-66-A⊂B","b":"ads","p":0.35,"v":320},{"s":"MTV-UiO-66-A⊂B","b":"ads","p":0.38,"v":328},{"s":"MTV-UiO-66-A⊂B","b":"ads","p":0.42,"v":336},{"s":"MTV-UiO-66-A⊂B","b":"ads","p":0.46,"v":342},{"s":"MTV-UiO-66-A⊂B","b":"ads","p":0.5,"v":348},{"s":"MTV-UiO-66-A⊂B","b":"ads","p":0.54,"v":353},{"s":"MTV-UiO-66-A⊂B","b":"ads","p":0.58,"v":358},{"s":"MTV-UiO-66-A⊂B","b":"ads","p":0.62,"v":363},{"s":"MTV-UiO-66-A⊂B","b":"ads","p":0.66,"v":369},{"s":"MTV-UiO-66-A⊂B","b":"ads","p":0.7,"v":374},{"s":"MTV-UiO-66-A⊂B","b":"ads","p":0.74,"v":379},{"s":"MTV-UiO-66-A⊂B","b":"ads","p":0.78,"v":384},{"s":"MTV-UiO-66-A⊂B","b":"ads","p":0.82,"v":390},{"s":"MTV-UiO-66-A⊂B","b":"ads","p":0.86,"v":396},{"s":"MTV-UiO-66-A⊂B","b":"ads","p":0.9,"v":405},{"s":"MTV-UiO-66-A⊂B","b":"ads","p":0.93,"v":418},{"s":"MTV-UiO-66-A⊂B","b":"ads","p":0.955,"v":440},{"s":"MTV-UiO-66-A⊂B","b":"ads","p":0.975,"v":465},{"s":"MTV-UiO-66-A⊂B","b":"ads","p":0.99,"v":487},
{"s":"MTV-UiO-66-A⊂B","b":"des","p":0.99,"v":490},{"s":"MTV-UiO-66-A⊂B","b":"des","p":0.975,"v":468},{"s":"MTV-UiO-66-A⊂B","b":"des","p":0.955,"v":443},{"s":"MTV-UiO-66-A⊂B","b":"des","p":0.93,"v":420},{"s":"MTV-UiO-66-A⊂B","b":"des","p":0.9,"v":407},{"s":"MTV-UiO-66-A⊂B","b":"des","p":0.86,"v":398},{"s":"MTV-UiO-66-A⊂B","b":"des","p":0.82,"v":392},{"s":"MTV-UiO-66-A⊂B","b":"des","p":0.78,"v":386},{"s":"MTV-UiO-66-A⊂B","b":"des","p":0.74,"v":381},{"s":"MTV-UiO-66-A⊂B","b":"des","p":0.7,"v":376},{"s":"MTV-UiO-66-A⊂B","b":"des","p":0.66,"v":371},{"s":"MTV-UiO-66-A⊂B","b":"des","p":0.62,"v":366},{"s":"MTV-UiO-66-A⊂B","b":"des","p":0.58,"v":361},{"s":"MTV-UiO-66-A⊂B","b":"des","p":0.54,"v":356},{"s":"MTV-UiO-66-A⊂B","b":"des","p":0.5,"v":351},{"s":"MTV-UiO-66-A⊂B","b":"des","p":0.46,"v":346},{"s":"MTV-UiO-66-A⊂B","b":"des","p":0.42,"v":341},{"s":"MTV-UiO-66-A⊂B","b":"des","p":0.385,"v":335},{"s":"MTV-UiO-66-A⊂B","b":"des","p":0.36,"v":326},{"s":"MTV-UiO-66-A⊂B","b":"des","p":0.34,"v":316},{"s":"MTV-UiO-66-A⊂B","b":"des","p":0.32,"v":302},{"s":"MTV-UiO-66-A⊂B","b":"des","p":0.305,"v":290},{"s":"MTV-UiO-66-A⊂B","b":"des","p":0.29,"v":278},{"s":"MTV-UiO-66-A⊂B","b":"des","p":0.275,"v":265},{"s":"MTV-UiO-66-A⊂B","b":"des","p":0.26,"v":245},{"s":"MTV-UiO-66-A⊂B","b":"des","p":0.25,"v":228},{"s":"MTV-UiO-66-A⊂B","b":"des","p":0.24,"v":210},{"s":"MTV-UiO-66-A⊂B","b":"des","p":0.23,"v":188},{"s":"MTV-UiO-66-A⊂B","b":"des","p":0.22,"v":166},{"s":"MTV-UiO-66-A⊂B","b":"des","p":0.21,"v":145},{"s":"MTV-UiO-66-A⊂B","b":"des","p":0.2,"v":125},{"s":"MTV-UiO-66-A⊂B","b":"des","p":0.185,"v":112},{"s":"MTV-UiO-66-A⊂B","b":"des","p":0.17,"v":104},{"s":"MTV-UiO-66-A⊂B","b":"des","p":0.15,"v":96},{"s":"MTV-UiO-66-A⊂B","b":"des","p":0.13,"v":88},{"s":"MTV-UiO-66-A⊂B","b":"des","p":0.11,"v":80},{"s":"MTV-UiO-66-A⊂B","b":"des","p":0.09,"v":73},{"s":"MTV-UiO-66-A⊂B","b":"des","p":0.075,"v":67}
]
},
"concat":[
{"width":254,"height":190,"title":{"text":"(a) H₂O, 298K"},
 "layer":[
  {"data":{"name":"bandsTop"},"mark":{"type":"rect"},"encoding":{
    "y":{"field":"lo","type":"quantitative","scale":{"domain":[0,600],"nice":false},"axis":{"orient":"left","values":[0,50,100,150,200,250,300,350,400,450,500,550,600],"labelExpr":"datum.value % 100 == 0 ? datum.label : ''","title":"H₂O uptake  (cm³ g⁻¹)","titleY":195}},
    "y2":{"field":"hi"},
    "fill":{"field":"band","type":"nominal","scale":{"domain":["g","k","o"],"range":["#eef7e4","#ebebeb","#fcece2"]},"legend":null}}},
  {"data":{"name":"a"},"mark":{"type":"line","strokeWidth":1},"encoding":{
    "x":{"field":"p","type":"quantitative","scale":{"domain":[0,1],"nice":false},"axis":{"values":[0,0.1,0.2,0.3,0.4,0.5,0.6,0.7,0.8,0.9,1],"labels":false,"title":null}},
    "y":{"field":"v","type":"quantitative","axis":{"orient":"right","values":[100,200,300,400,500],"labels":false,"title":null,"tickSize":3}},
    "stroke":{"field":"s","type":"nominal","scale":{"domain":["UiO-66-A","UiO-66-B","mix-UiO-66-AB","_"],"range":["#6ac43a","#f05a23","#3d3d3d","#000000"]},"legend":null},
    "detail":{"field":"b"},"order":{"field":"p"}}},
  {"data":{"name":"a"},"transform":[{"filter":"datum.b == 'ads'"}],"mark":{"type":"point","shape":"circle","filled":true,"size":48,"opacity":1},"encoding":{
    "x":{"field":"p","type":"quantitative"},"y":{"field":"v","type":"quantitative","axis":null},
    "color":{"field":"s","type":"nominal","scale":{"domain":["UiO-66-A","UiO-66-B","mix-UiO-66-AB"],"range":["#6ac43a","#f05a23","#3d3d3d"]},"legend":{"title":null}}}},
  {"data":{"name":"a"},"transform":[{"filter":"datum.b == 'des'"}],"mark":{"type":"point","shape":"circle","fill":"white","fillOpacity":1,"strokeWidth":1.5,"size":38,"opacity":1},"encoding":{
    "x":{"field":"p","type":"quantitative"},"y":{"field":"v","type":"quantitative","axis":null},
    "stroke":{"field":"s","type":"nominal","legend":null}}}
 ],
 "resolve":{"axis":{"y":"independent"}}},
{"width":261,"height":190,"title":{"text":"(b)"},
 "layer":[
  {"data":{"name":"bandsTop"},"mark":{"type":"rect"},"encoding":{
    "y":{"field":"lo","type":"quantitative","scale":{"domain":[0,600],"nice":false},"axis":{"orient":"left","values":[0,50,100,150,200,250,300,350,400,450,500,550,600],"labels":false,"title":null}},
    "y2":{"field":"hi"},
    "fill":{"field":"band","type":"nominal","scale":{"domain":["g","k","o"],"range":["#eef7e4","#ebebeb","#fcece2"]},"legend":null}}},
  {"data":{"name":"b"},"mark":{"type":"line","strokeWidth":1},"encoding":{
    "x":{"field":"p","type":"quantitative","scale":{"domain":[0,1],"nice":false},"axis":{"values":[0,0.1,0.2,0.3,0.4,0.5,0.6,0.7,0.8,0.9,1],"labels":false,"title":null}},
    "y":{"field":"v","type":"quantitative","axis":{"orient":"right","values":[100,200,300,400,500],"labels":false,"title":null,"tickSize":3}},
    "stroke":{"field":"s","type":"nominal","scale":{"domain":["MTV-UiO-66-AB (1:2)","MTV-UiO-66-AB (1:1)","MTV-UiO-66-AB (2:1)","_"],"range":["#5a1e96","#a587d1","#a0a0a0","#000000"]},"legend":null},
    "detail":{"field":"b"},"order":{"field":"p"}}},
  {"data":{"name":"b"},"transform":[{"filter":"datum.b == 'ads'"}],"mark":{"type":"point","shape":"circle","filled":true,"size":48,"opacity":1},"encoding":{
    "x":{"field":"p","type":"quantitative"},"y":{"field":"v","type":"quantitative","axis":null},
    "color":{"field":"s","type":"nominal","scale":{"domain":["MTV-UiO-66-AB (1:2)","MTV-UiO-66-AB (1:1)","MTV-UiO-66-AB (2:1)"],"range":["#5a1e96","#a587d1","#a0a0a0"]},"legend":{"title":null}}}},
  {"data":{"name":"b"},"transform":[{"filter":"datum.b == 'des'"}],"mark":{"type":"point","shape":"circle","fill":"white","fillOpacity":1,"strokeWidth":1.5,"size":38,"opacity":1},"encoding":{
    "x":{"field":"p","type":"quantitative"},"y":{"field":"v","type":"quantitative","axis":null},
    "stroke":{"field":"s","type":"nominal","legend":null}}}
 ],
 "resolve":{"axis":{"y":"independent"}}},
{"width":254,"height":191,"title":{"text":"(c)"},
 "layer":[
  {"data":{"name":"bandsBot"},"mark":{"type":"rect"},"encoding":{
    "y":{"field":"lo","type":"quantitative","scale":{"domain":[0,600],"nice":false},"axis":{"orient":"left","values":[0,50,100,150,200,250,300,350,400,450,500,550,600],"labelExpr":"datum.value % 100 == 0 ? datum.label : ''","title":null}},
    "y2":{"field":"hi"},
    "fill":{"field":"band","type":"nominal","scale":{"domain":["g","k","o"],"range":["#eef7e4","#ebebeb","#fcece2"]},"legend":null}}},
  {"data":{"name":"c"},"mark":{"type":"line","strokeWidth":1},"encoding":{
    "x":{"field":"p","type":"quantitative","scale":{"domain":[0,1],"nice":false},"axis":{"values":[0,0.1,0.2,0.3,0.4,0.5,0.6,0.7,0.8,0.9,1],"labelExpr":"round(datum.value*10) % 2 == 0 ? format(datum.value, '.1f') : ''","title":"Relative Pressure (P/P₀)","titleX":279}},
    "y":{"field":"v","type":"quantitative","axis":{"orient":"right","values":[100,200,300,400,500],"labels":false,"title":null,"tickSize":3}},
    "stroke":{"field":"s","type":"nominal","scale":{"domain":["MTV-UiO-66-B⊂A","_"],"range":["#26a7e1","#000000"]},"legend":null},
    "detail":{"field":"b"},"order":{"field":"p"}}},
  {"data":{"name":"c"},"transform":[{"filter":"datum.b == 'ads'"}],"mark":{"type":"point","shape":"circle","filled":true,"size":48,"opacity":1},"encoding":{
    "x":{"field":"p","type":"quantitative"},"y":{"field":"v","type":"quantitative","axis":null},
    "color":{"field":"s","type":"nominal","scale":{"domain":["MTV-UiO-66-B⊂A"],"range":["#26a7e1"]},"legend":{"title":null}}}},
  {"data":{"name":"c"},"transform":[{"filter":"datum.b == 'des'"}],"mark":{"type":"point","shape":"circle","fill":"white","fillOpacity":1,"strokeWidth":1.5,"size":38,"opacity":1},"encoding":{
    "x":{"field":"p","type":"quantitative"},"y":{"field":"v","type":"quantitative","axis":null},
    "stroke":{"field":"s","type":"nominal","legend":null}}}
 ],
 "resolve":{"axis":{"y":"independent"}}},
{"width":261,"height":191,"title":{"text":"(d)"},
 "layer":[
  {"data":{"name":"bandsBot"},"mark":{"type":"rect"},"encoding":{
    "y":{"field":"lo","type":"quantitative","scale":{"domain":[0,600],"nice":false},"axis":{"orient":"left","values":[0,50,100,150,200,250,300,350,400,450,500,550,600],"labels":false,"title":null}},
    "y2":{"field":"hi"},
    "fill":{"field":"band","type":"nominal","scale":{"domain":["g","k","o"],"range":["#eef7e4","#ebebeb","#fcece2"]},"legend":null}}},
  {"data":{"name":"d"},"mark":{"type":"line","strokeWidth":1},"encoding":{
    "x":{"field":"p","type":"quantitative","scale":{"domain":[0,1],"nice":false},"axis":{"values":[0,0.1,0.2,0.3,0.4,0.5,0.6,0.7,0.8,0.9,1],"labelExpr":"round(datum.value*10) % 2 == 0 ? format(datum.value, '.1f') : ''","title":null}},
    "y":{"field":"v","type":"quantitative","axis":{"orient":"right","values":[100,200,300,400,500],"labels":false,"title":null,"tickSize":3}},
    "stroke":{"field":"s","type":"nominal","scale":{"domain":["MTV-UiO-66-A⊂B","_"],"range":["#c1272d","#000000"]},"legend":null},
    "detail":{"field":"b"},"order":{"field":"p"}}},
  {"data":{"name":"d"},"transform":[{"filter":"datum.b == 'ads'"}],"mark":{"type":"point","shape":"circle","filled":true,"size":48,"opacity":1},"encoding":{
    "x":{"field":"p","type":"quantitative"},"y":{"field":"v","type":"quantitative","axis":null},
    "color":{"field":"s","type":"nominal","scale":{"domain":["MTV-UiO-66-A⊂B"],"range":["#c1272d"]},"legend":{"title":null}}}},
  {"data":{"name":"d"},"transform":[{"filter":"datum.b == 'des'"}],"mark":{"type":"point","shape":"circle","fill":"white","fillOpacity":1,"strokeWidth":1.5,"size":38,"opacity":1},"encoding":{
    "x":{"field":"p","type":"quantitative"},"y":{"field":"v","type":"quantitative","axis":null},
    "stroke":{"field":"s","type":"nominal","legend":null}}}
 ],
 "resolve":{"axis":{"y":"independent"}}}
]
}
